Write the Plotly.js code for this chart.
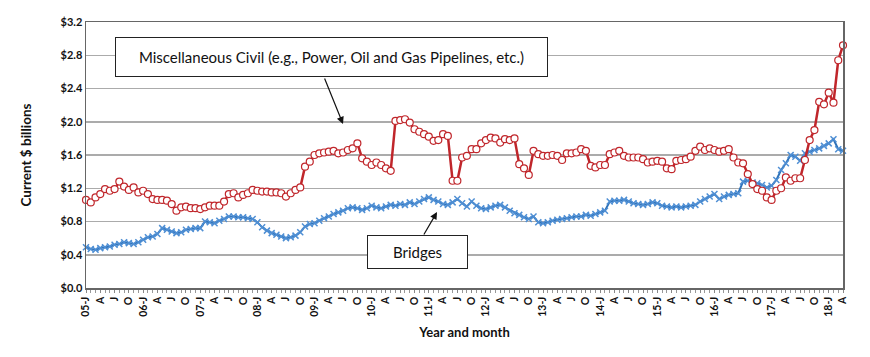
<!DOCTYPE html>
<html>
<head>
<meta charset="utf-8">
<script src="https://cdn.plot.ly/plotly-3.0.1.min.js"></script>
<style>html,body{margin:0;padding:0;background:#fff;}#chart{width:870px;height:357px;}</style>
</head>
<body>
<div id="chart"></div>
<script>
// ---- data ----
const years = ['05','06','07','08','09','10','11','12','13','14','15','16','17','18'];
const monthLetters = ['J','F','M','A','M','J','J','A','S','O','N','D'];
const lastYearMonths = 4; // 2018: Jan-Apr

const miscCivil = [
1.06,1.03,1.09,1.13,1.19,1.17,1.19,1.28,1.22,1.18,1.21,1.15,
1.17,1.13,1.07,1.06,1.06,1.05,1.01,0.93,0.97,0.98,0.96,0.96,
0.95,0.97,0.99,0.99,0.99,1.04,1.13,1.14,1.09,1.12,1.14,1.18,
1.17,1.16,1.16,1.15,1.15,1.14,1.10,1.14,1.18,1.21,1.46,1.52,
1.60,1.62,1.63,1.64,1.65,1.62,1.63,1.66,1.68,1.74,1.56,1.52,
1.48,1.51,1.48,1.44,1.41,2.01,2.02,2.03,1.99,1.91,1.88,1.85,
1.82,1.77,1.78,1.85,1.83,1.29,1.29,1.57,1.59,1.67,1.67,1.74,
1.78,1.81,1.80,1.75,1.79,1.78,1.80,1.49,1.44,1.36,1.65,1.61,
1.59,1.59,1.60,1.59,1.54,1.62,1.62,1.63,1.67,1.65,1.47,1.45,
1.48,1.48,1.61,1.63,1.65,1.59,1.57,1.57,1.57,1.55,1.51,1.52,
1.53,1.52,1.44,1.43,1.53,1.54,1.55,1.58,1.65,1.70,1.66,1.68,
1.66,1.64,1.65,1.67,1.57,1.51,1.50,1.37,1.25,1.19,1.17,1.09,
1.06,1.17,1.20,1.33,1.29,1.32,1.32,1.54,1.78,1.90,2.24,2.21,
2.35,2.23,2.74,2.92
];

const bridges = [
0.49,0.47,0.46,0.48,0.49,0.50,0.52,0.53,0.55,0.54,0.53,0.55,
0.58,0.61,0.62,0.65,0.72,0.70,0.68,0.66,0.67,0.70,0.71,0.72,
0.72,0.80,0.79,0.78,0.81,0.83,0.86,0.86,0.85,0.85,0.84,0.83,
0.79,0.73,0.69,0.66,0.64,0.62,0.60,0.61,0.63,0.67,0.74,0.77,
0.78,0.81,0.84,0.86,0.89,0.91,0.93,0.96,0.97,0.96,0.94,0.96,
0.99,0.97,0.96,0.98,1.00,0.99,1.01,1.00,1.03,1.01,1.04,1.07,
1.09,1.06,1.04,1.01,1.00,1.03,1.07,1.02,0.98,1.04,0.99,0.96,
0.95,0.97,0.99,1.00,0.97,0.93,0.90,0.88,0.85,0.83,0.86,0.79,
0.78,0.79,0.81,0.82,0.83,0.84,0.85,0.86,0.86,0.88,0.87,0.89,
0.91,0.93,1.04,1.05,1.05,1.06,1.04,1.02,1.01,1.00,1.01,1.03,
1.02,0.99,0.98,0.97,0.98,0.97,0.98,0.99,1.00,1.04,1.07,1.10,
1.13,1.07,1.10,1.12,1.13,1.14,1.28,1.29,1.27,1.26,1.24,1.21,
1.23,1.30,1.42,1.50,1.60,1.58,1.53,1.62,1.64,1.66,1.68,1.71,
1.74,1.79,1.67,1.65
];

const yTicks = [0,0.4,0.8,1.2,1.6,2.0,2.4,2.8,3.2];

// ---- build month categories & tick labels ----
const months = [];
years.forEach((yy, yi) => {
  const n = (yi === years.length - 1) ? lastYearMonths : 12;
  for (let m = 0; m < n; m++) months.push({yy: yy, m: m});
});
const xIdx = months.map((_, i) => i);
const tickvals = [], ticktext = [];
months.forEach((d, i) => {
  if (d.m % 3 === 0) {
    tickvals.push(i);
    ticktext.push(d.m === 0 ? d.yy + '-J' : monthLetters[d.m]);
  }
});

const FONT = 'Lato, "Open Sans", sans-serif';

const traces = [
  {
    x: xIdx, y: bridges, type: 'scatter', mode: 'lines+markers', name: 'Bridges',
    line: {color: '#2f72b8', width: 2},
    marker: {symbol: 'x-thin', size: 6, line: {color: '#4f8fd4', width: 1.5}},
    cliponaxis: false
  },
  {
    x: xIdx, y: miscCivil, type: 'scatter', mode: 'lines+markers', name: 'Miscellaneous Civil',
    line: {color: '#c0262b', width: 2.5},
    marker: {symbol: 'circle', size: 7, color: '#ffffff', line: {color: '#c0262b', width: 1.2}},
    cliponaxis: false
  }
];

const layout = {
  width: 870, height: 357,
  margin: {l: 86, r: 27, t: 22, b: 69},
  paper_bgcolor: '#ffffff', plot_bgcolor: '#ffffff',
  showlegend: false,
  font: {family: FONT, color: '#111'},
  xaxis: {
    range: [0, months.length - 1],
    tickmode: 'array', tickvals: tickvals, ticktext: ticktext,
    tickangle: -90,
    tickfont: {size: 10.5, family: FONT, color: '#111', weight: 'bold'},
    ticks: 'outside', ticklen: 3, tickcolor: '#888',
    minor: {dtick: 1, tick0: 0, ticks: 'outside', ticklen: 3, tickcolor: '#999', showgrid: false},
    showgrid: false, zeroline: false,
    showline: true, linecolor: '#666', linewidth: 1.5, mirror: true,
    title: {text: 'Year and month', font: {size: 13, family: FONT, weight: 'bold', color: '#111'}, standoff: 12}
  },
  yaxis: {
    range: [0, 3.2],
    tickmode: 'array', tickvals: yTicks, ticktext: yTicks.map(v => '$' + v.toFixed(1)),
    tickfont: {size: 11, family: FONT, color: '#111', weight: 'bold'},
    showgrid: true, gridcolor: '#ababab', gridwidth: 1.5,
    zeroline: false, ticks: '',
    showline: true, linecolor: '#666', linewidth: 1.5, mirror: true,
    title: {text: 'Current $ billions', font: {size: 13.5, family: FONT, weight: 'bold', color: '#111'}, standoff: 26}
  },
  annotations: [
    {
      xref: 'paper', yref: 'paper', x: 0.3243, y: 0.8684, xanchor: 'center', yanchor: 'middle',
      text: 'Miscellaneous Civil (e.g., Power, Oil and Gas Pipelines, etc.)',
      showarrow: false, font: {size: 15, family: FONT, color: '#111'},
      bgcolor: '#ffffff', bordercolor: '#222', borderwidth: 1, borderpad: 0,
      width: 431, height: 38
    },
    {
      xref: 'paper', yref: 'paper', x: 0.3395, y: 0.6165, text: '',
      showarrow: true, axref: 'pixel', ayref: 'pixel', ax: -19, ay: -47,
      arrowhead: 2, arrowsize: 1.2, arrowwidth: 1.2, arrowcolor: '#111'
    },
    {
      xref: 'paper', yref: 'paper', x: 0.4373, y: 0.1335, xanchor: 'center', yanchor: 'middle',
      text: 'Bridges',
      showarrow: false, font: {size: 15, family: FONT, color: '#111'},
      bgcolor: '#ffffff', bordercolor: '#222', borderwidth: 1, borderpad: 0,
      width: 99, height: 32
    },
    {
      xref: 'paper', yref: 'paper', x: 0.4637, y: 0.2857, text: '',
      showarrow: true, axref: 'pixel', ayref: 'pixel', ax: -14, ay: 24,
      arrowhead: 2, arrowsize: 1.2, arrowwidth: 1.2, arrowcolor: '#111'
    }
  ]
};

Plotly.newPlot('chart', traces, layout, {staticPlot: true, displayModeBar: false});
</script>
</body>
</html>
